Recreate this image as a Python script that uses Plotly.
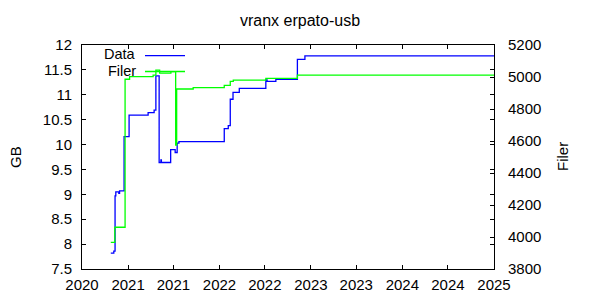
import plotly.graph_objects as go

# ---- data ----
data_dates = ["2020-10-24", "2020-11-05", "2020-11-10", "2020-11-13", "2020-11-25",
              "2020-11-28", "2020-12-16", "2021-01-05", "2021-03-22", "2021-04-15",
              "2021-04-22", "2021-05-05", "2021-05-12", "2021-05-14", "2021-06-20",
              "2021-07-08", "2021-07-16", "2021-07-23", "2022-01-20", "2022-02-05",
              "2022-02-13", "2022-02-24", "2022-03-21", "2022-07-05", "2022-07-10",
              "2022-08-14", "2022-11-08", "2022-12-08", "2025-01-01"]
data_gb = [7.82, 7.86, 8.97, 9.05, 9.02,
           9.07, 10.16, 10.59, 10.64, 10.69,
           11.38, 9.64, 9.69, 9.64, 9.90,
           9.84, 10.03, 10.06, 10.32, 10.38,
           10.91, 11.05, 11.13, 11.30, 11.27,
           11.31, 11.71, 11.78, 11.78]

filer_dates = ["2020-10-24", "2020-11-09", "2020-12-20", "2021-01-07", "2021-04-11",
               "2021-04-22", "2021-05-07", "2021-06-21", "2021-07-10", "2021-07-14",
               "2021-09-18", "2022-01-20", "2022-02-13", "2022-02-25", "2022-07-05",
               "2022-11-08", "2025-01-01"]
filer_n = [3967, 4061, 4986, 5002, 5012,
           5043, 5024, 5033, 4575, 4925,
           4933, 4948, 4973, 4981, 4992,
           5012, 5012]

title_text = "vranx erpato-usb"
series_names = ["Data", "Filer"]
series_colors = ["#0000ff", "#00ff00"]
x_range = ["2020-07-01", "2025-01-01"]
y1_range = [7.5, 12]
y2_range = [3800, 5200]

FONT = "Liberation Sans, Arial, sans-serif"
FS = 15

fig = go.Figure()
fig.add_trace(go.Scatter(x=data_dates, y=data_gb, name=series_names[0], mode="lines",
                         line=dict(color=series_colors[0], width=1.3, shape="hv"),
                         yaxis="y"))
fig.add_trace(go.Scatter(x=filer_dates, y=filer_n, name=series_names[1], mode="lines",
                         line=dict(color=series_colors[1], width=1.3, shape="hv"),
                         yaxis="y2"))

L, R, T, B = 82, 106, 45, 31
W, H = 600, 300
pw, ph = W - L - R, H - T - B

def px(xp):
    return (xp - L) / pw

def py(yp):
    return (H - B - yp) / ph

# gnuplot-style key: text right-aligned, sample line to its right
annotations = []
shapes = []
key_rows = [(54.0, 55.7), (70.5, 71.5)]
for name, color, (ty, ly) in zip(series_names, series_colors, key_rows):
    annotations.append(dict(text=name, x=px(137), y=py(ty), xref="paper", yref="paper",
                            xanchor="right", yanchor="middle", showarrow=False, borderpad=0,
                            font=dict(family=FONT, size=14.5, color="black")))
    shapes.append(dict(type="line", xref="paper", yref="paper",
                       x0=px(145), x1=px(185), y0=py(ly), y1=py(ly),
                       line=dict(color=color, width=1.3)))

annotations.append(dict(text="GB", x=px(15), y=0.5, xref="paper", yref="paper",
                        textangle=-90, showarrow=False, xanchor="center", yanchor="middle",
                        font=dict(family=FONT, size=FS, color="black")))
annotations.append(dict(text="Filer", x=px(562), y=0.5, xref="paper", yref="paper",
                        textangle=-90, showarrow=False, xanchor="center", yanchor="middle",
                        font=dict(family=FONT, size=FS, color="black")))

axis_common = dict(showgrid=False, zeroline=False, showline=True, linecolor="black",
                   linewidth=1, ticks="inside", ticklen=4, tickcolor="black", tickwidth=1,
                   tickfont=dict(family=FONT, size=FS, color="black"))

fig.update_layout(
    width=W, height=H,
    margin=dict(l=L, r=R, t=T, b=B, autoexpand=False),
    paper_bgcolor="white", plot_bgcolor="white",
    showlegend=False,
    title=dict(text=title_text, x=0.5, xref="container", xanchor="center",
               y=(H - 20) / H, yref="container", yanchor="middle",
               font=dict(family=FONT, size=16, color="black")),
    xaxis=dict(range=x_range, type="date", dtick="M6", tick0="2020-07-01",
               tickformat="%Y", mirror="ticks", ticklabelstandoff=2, **axis_common),
    yaxis=dict(range=y1_range, dtick=0.5, mirror="ticks", ticklabelstandoff=6,
               **axis_common),
    yaxis2=dict(range=y2_range, dtick=200, overlaying="y", side="right",
                ticklabelstandoff=10, **axis_common),
    annotations=annotations,
    shapes=shapes,
)

fig.write_html("out.html")
